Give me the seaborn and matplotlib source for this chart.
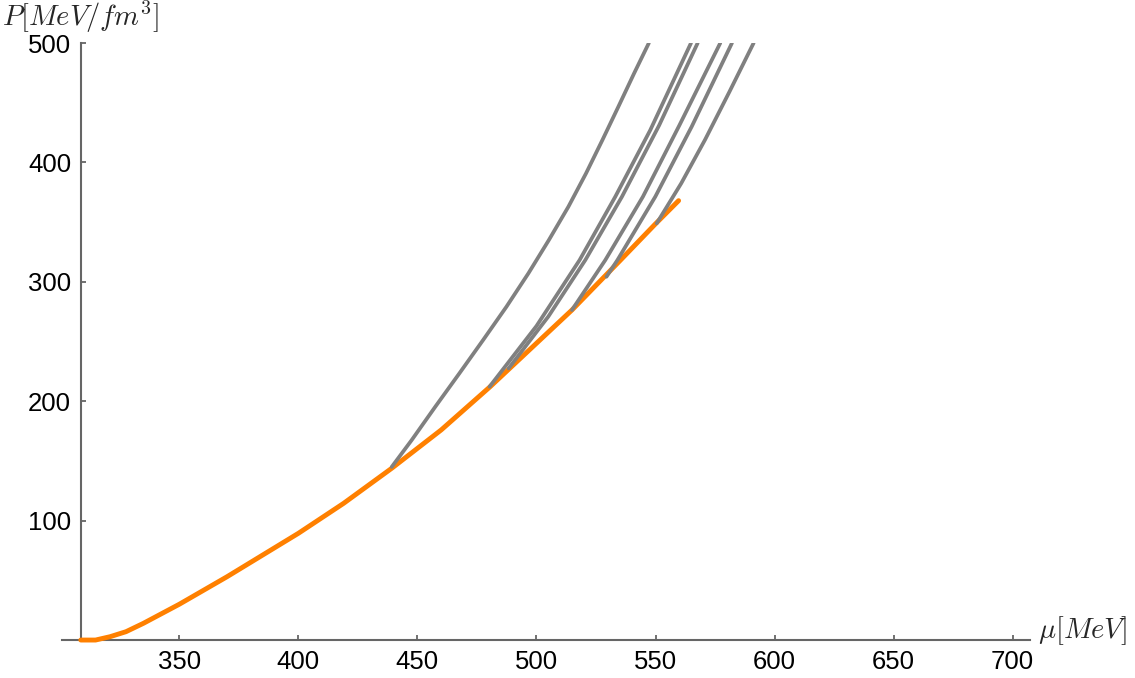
import numpy as np
import pandas as pd
import matplotlib
matplotlib.use('Agg')
import matplotlib.pyplot as plt
import seaborn as sns

# --- DATA ---
# orange curve: hadronic branch, P(mu)
mu_had = [308.6, 314.8, 320.9, 327.6, 334.9, 350, 370, 400, 419, 439.3,
          460, 480.6, 514.9, 535.2, 549.9, 559.7]
p_had = [0, 0, 2.8, 7, 14, 30, 53, 89.4, 114.5, 144,
         176, 212.3, 276.4, 318, 348.4, 368]

# grey curves: branches leaving the orange curve
mu_b1 = [439.2, 447.6, 457.5, 467.6, 477.6, 487.4, 496.6, 505.2, 513.4,
         520.8, 527.7, 534.4, 541, 547.2]
p_b1 = [145, 167.5, 195.4, 223.3, 251.3, 279.2, 307.1, 335, 362.9,
        390.8, 418.8, 446.7, 474.6, 500]

mu_b2 = [480.3, 500, 518.1, 533.1, 547.8, 564.9]
p_b2 = [212.2, 263, 318.2, 371.3, 427.1, 500]

mu_b3 = [488.3, 505, 520.5, 535.9, 551.5, 567.7]
p_b3 = [227.5, 271, 318.2, 371.3, 431, 500]

mu_b4 = [514.9, 528.9, 544.7, 560, 577.2]
p_b4 = [276.4, 318.2, 371.3, 431, 500]

mu_b5 = [529.4, 534.0, 549.9, 565.2, 582.1]
p_b5 = [304.3, 318.2, 371.3, 430, 500]

mu_b6 = [550.5, 560.8, 570.8, 581, 591.2]
p_b6 = [349, 382.5, 419, 459, 500]

branches = [(mu_b1, p_b1), (mu_b2, p_b2), (mu_b3, p_b3),
            (mu_b4, p_b4), (mu_b5, p_b5), (mu_b6, p_b6)]

x_ticks = [350, 400, 450, 500, 550, 600, 650, 700]
y_ticks = [100, 200, 300, 400, 500]

# --- STYLE ---
sns.set_theme(style='white')
plt.rcParams['font.family'] = ['Liberation Sans', 'DejaVu Sans']
plt.rcParams['mathtext.fontset'] = 'cm'

axis_col = '#666666'
grey = '#808080'
orange = '#ff8000'

fig = plt.figure(figsize=(11.35, 6.78), dpi=100)
ax = fig.add_axes([0.0546, 0.0507, 0.8529, 0.8858])

sns.lineplot(x=mu_had, y=p_had, ax=ax, color=orange, lw=3.5, sort=False,
             estimator=None, zorder=4)
for mu, p in branches:
    sns.lineplot(x=mu, y=p, ax=ax, color=grey, lw=2.7, sort=False,
                 estimator=None, zorder=5)

ax.set_xlim(300.7, 707.3)
ax.set_ylim(-3, 500)
ax.set_xticks(x_ticks)
ax.set_yticks(y_ticks)
ax.set_xlabel('')
ax.set_ylabel('')

# Mathematica-like axes crossing at (mu_min, 0)
for s in ['top', 'right']:
    ax.spines[s].set_visible(False)
ax.spines['left'].set_position(('data', mu_had[0]))
ax.spines['left'].set_bounds(0, 500)
ax.spines['bottom'].set_position(('data', 0))
for s in ['left', 'bottom']:
    ax.spines[s].set_color(axis_col)
    ax.spines[s].set_linewidth(1.5)

ax.tick_params(axis='both', direction='in', length=3.8, width=1.3,
               color=axis_col, labelcolor='black', labelsize=18.5)
ax.tick_params(axis='x', pad=7, bottom=True)
ax.tick_params(axis='y', pad=7, left=True)

fig.text(2 / 1135, 1 - 17 / 678, r'$P[MeV/fm^3]$', fontsize=20.5,
         ha='left', va='center')
fig.text(1038 / 1135, 1 - 638 / 678, r'$\mu[MeV]$', fontsize=20.5,
         ha='left', va='baseline')

plt.savefig('out.png', dpi=100)
